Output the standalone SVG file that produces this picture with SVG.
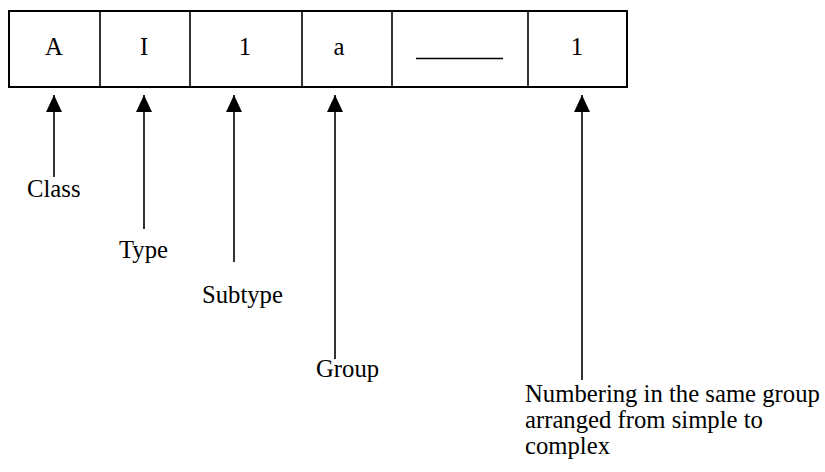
<svg xmlns="http://www.w3.org/2000/svg" width="825" height="472" viewBox="0 0 825 472">
<style>
text{font-family:"Liberation Serif","Times New Roman",serif;font-size:24.7px;fill:#000}
.c{text-anchor:middle}
.box{fill:#fff;stroke:#000;stroke-width:2}
.ln{stroke:#000;stroke-width:1.6;fill:none}
</style>
<defs>
<marker id="ah" viewBox="0 0 17 16" refX="17" refY="8" markerWidth="17" markerHeight="16" markerUnits="userSpaceOnUse" orient="auto">
<path d="M0,0 L17,8 L0,16 Z" fill="#000"/>
</marker>
</defs>
<rect width="825" height="472" fill="#fff"/>
<g id="code">
<rect class="box" x="9" y="11" width="618" height="76"/>
<line class="ln" x1="100" y1="11" x2="100" y2="87"/>
<line class="ln" x1="190" y1="11" x2="190" y2="87"/>
<line class="ln" x1="302" y1="11" x2="302" y2="87"/>
<line class="ln" x1="392" y1="11" x2="392" y2="87"/>
<line class="ln" x1="528" y1="11" x2="528" y2="87"/>
<text class="c" x="54" y="55">A</text>
<text class="c" x="144" y="55">I</text>
<text class="c" x="245" y="55">1</text>
<text class="c" x="339" y="55">a</text>
<line x1="416" y1="58.5" x2="503" y2="58.5" stroke="#000" stroke-width="1.6"/>
<text class="c" x="577" y="55">1</text>
</g>
<g id="connectors">
<path class="ln" d="M54,177 V95" marker-end="url(#ah)"/>
<path class="ln" d="M144,229 V95" marker-end="url(#ah)"/>
<path class="ln" d="M234,262 V95" marker-end="url(#ah)"/>
<path class="ln" d="M335,359 V95" marker-end="url(#ah)"/>
<path class="ln" d="M582,380 V95" marker-end="url(#ah)"/>
</g>
<g id="class"><text x="27" y="197">Class</text></g>
<g id="type"><text x="119" y="258">Type</text></g>
<g id="subtype"><text x="202" y="303">Subtype</text></g>
<g id="group"><text x="316" y="377">Group</text></g>
<g id="numbering">
<text x="525" y="402">Numbering in the same group</text>
<text x="525" y="428">arranged from simple to</text>
<text x="525" y="454">complex</text>
</g>
</svg>
